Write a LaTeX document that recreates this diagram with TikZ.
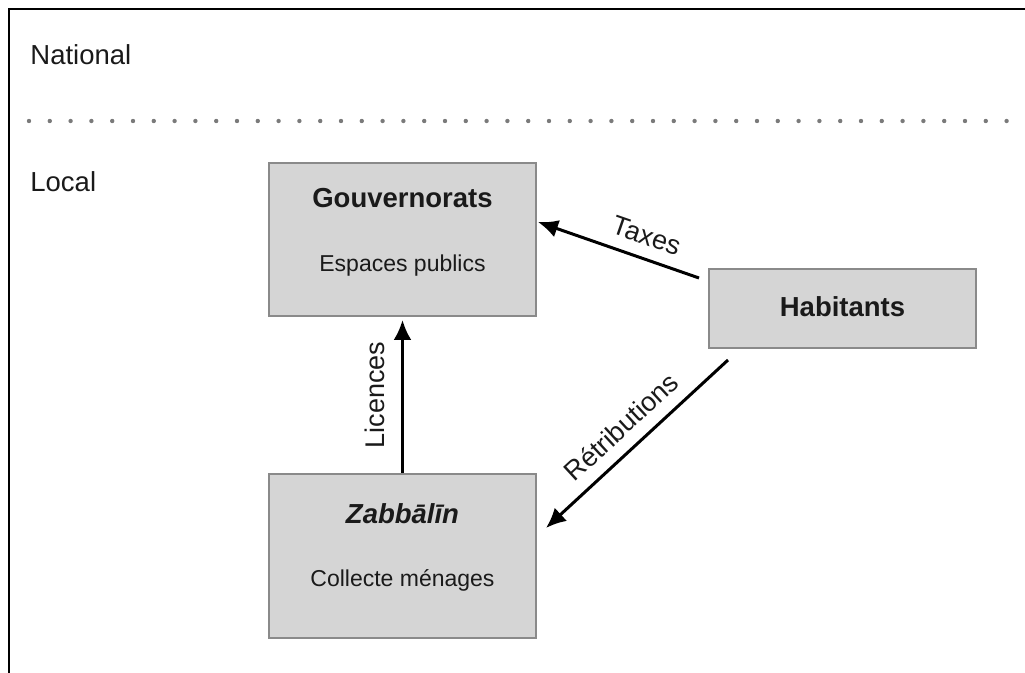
\documentclass[tikz,border=0pt]{standalone}
\usepackage{fontspec}
\setmainfont{Liberation Sans}
\usepackage{xcolor}
\usetikzlibrary{positioning,calc,arrows.meta}

\definecolor{boxfill}{HTML}{D5D5D5}
\definecolor{boxgray}{HTML}{8A8A8A}
\definecolor{dotgray}{HTML}{7A7A7A}
\definecolor{ink}{HTML}{1A1A1A}

\begin{document}
\begin{tikzpicture}[x=0.5pt, y=-0.5pt,
    box/.style={rectangle, draw=boxgray, fill=boxfill, line width=1pt, minimum width=133.5pt, inner sep=0pt},
    title/.style={anchor=base, inner sep=0pt, text=ink, font=\fontsize{13.75}{16}\selectfont\bfseries},
    role/.style={anchor=base, inner sep=0pt, text=ink, font=\fontsize{11.5}{14}\selectfont},
    level/.style={anchor=base west, inner sep=0pt, text=ink, font=\fontsize{13.75}{16}\selectfont},
    flow/.style={draw=black, -{Latex[length=10pt,width=9pt]}, line width=1.5pt},
    flowlabel/.style={font=\fontsize{13.5}{16}\selectfont, text=ink, sloped, above=3pt, inner sep=3pt}]

    \useasboundingbox (0,0) rectangle (1025,673);

    % Frame and levels
    \draw[line width=1pt] (9,673) -- (9,9) -- (1025,9);
    \draw[dotgray, line width=2.2pt, line cap=round, dash pattern=on 0pt off 10.4pt] (29,121) -- (1010,121);
    \node[level] (national) at (30,65) {National};
    \node[level] (local) at (30,192) {Local};

    % Nodes
    \node[box, minimum height=76.5pt] (gouv) at (402.5,239.5) {};
    \node[box, minimum height=39.5pt] (hab) at (842.5,308.5) {};
    \node[box, minimum height=82pt] (zab) at (402.5,556) {};

    \node[title] (gouvtitle) at (402.5,208) {Gouvernorats};
    \node[role] (gouvrole) at (402.5,272) {Espaces publics};
    \node[title] (habtitle) at (842.5,317) {Habitants};
    \node[title, font=\fontsize{13.75}{16}\selectfont\bfseries\itshape] (zabtitle) at (402.5,524) {Zabbālīn};
    \node[role] (zabrole) at (402.5,587) {Collecte ménages};

    % Paths
    \path[flow] ($(hab.west)+(-9,-30.5)$) -- node[flowlabel, pos=0.37] {Taxes} ($(gouv.east)+(1,-17.5)$);
    \path[flow] ($(hab.south west)+(20,11)$) -- node[flowlabel] {Rétributions} ($(zab.east)+(9,-28)$);
    \path[flow, shorten >=1.5pt] (zab.north) -- node[flowlabel, above=5pt] {Licences} (gouv.south);

\end{tikzpicture}
\end{document}
